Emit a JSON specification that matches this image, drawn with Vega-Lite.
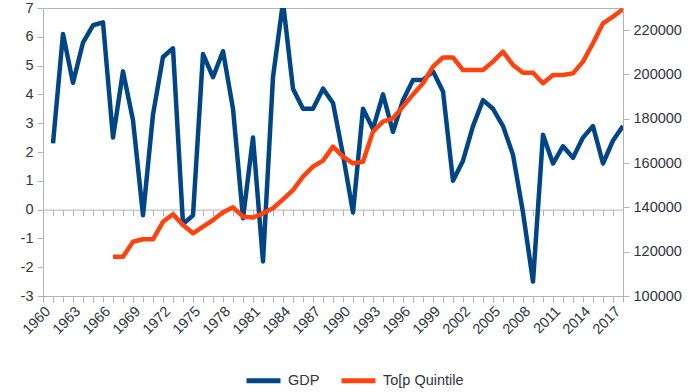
{
  "$schema": "https://vega.github.io/schema/vega-lite/v6.json",
  "width": 580,
  "height": 288,
  "autosize": {"type": "none"},
  "padding": {"left": 43, "top": 8, "right": 73, "bottom": 96},
  "background": "white",
  "config": {
    "font": "Liberation Sans",
    "view": {"stroke": "#b3b3b3", "strokeWidth": 1},
    "axis": {
      "labelFont": "Liberation Sans",
      "labelFontSize": 14.5,
      "labelColor": "#2e3440",
      "domainColor": "#b3b3b3",
      "tickColor": "#b3b3b3",
      "tickSize": 6,
      "grid": false,
      "title": null
    },
    "legend": {"labelFont": "Liberation Sans", "labelFontSize": 14.5, "labelColor": "#2e3440"}
  },
  "data": {
    "values": [
      {"year": 1961, "GDP": 2.3, "TopQuintile": null},
      {"year": 1962, "GDP": 6.1, "TopQuintile": null},
      {"year": 1963, "GDP": 4.4, "TopQuintile": null},
      {"year": 1964, "GDP": 5.8, "TopQuintile": null},
      {"year": 1965, "GDP": 6.4, "TopQuintile": null},
      {"year": 1966, "GDP": 6.5, "TopQuintile": null},
      {"year": 1967, "GDP": 2.5, "TopQuintile": 117700},
      {"year": 1968, "GDP": 4.8, "TopQuintile": 117700},
      {"year": 1969, "GDP": 3.1, "TopQuintile": 124500},
      {"year": 1970, "GDP": -0.2, "TopQuintile": 125600},
      {"year": 1971, "GDP": 3.3, "TopQuintile": 125600},
      {"year": 1972, "GDP": 5.3, "TopQuintile": 133500},
      {"year": 1973, "GDP": 5.6, "TopQuintile": 136900},
      {"year": 1974, "GDP": -0.5, "TopQuintile": 132000},
      {"year": 1975, "GDP": -0.2, "TopQuintile": 128300},
      {"year": 1976, "GDP": 5.4, "TopQuintile": 131300},
      {"year": 1977, "GDP": 4.6, "TopQuintile": 134300},
      {"year": 1978, "GDP": 5.5, "TopQuintile": 137800},
      {"year": 1979, "GDP": 3.5, "TopQuintile": 140000},
      {"year": 1980, "GDP": -0.3, "TopQuintile": 135800},
      {"year": 1981, "GDP": 2.5, "TopQuintile": 135400},
      {"year": 1982, "GDP": -1.8, "TopQuintile": 137300},
      {"year": 1983, "GDP": 4.6, "TopQuintile": 139600},
      {"year": 1984, "GDP": 7.2, "TopQuintile": 143600},
      {"year": 1985, "GDP": 4.2, "TopQuintile": 147800},
      {"year": 1986, "GDP": 3.5, "TopQuintile": 153900},
      {"year": 1987, "GDP": 3.5, "TopQuintile": 158400},
      {"year": 1988, "GDP": 4.2, "TopQuintile": 161100},
      {"year": 1989, "GDP": 3.7, "TopQuintile": 167400},
      {"year": 1990, "GDP": 1.9, "TopQuintile": 162900},
      {"year": 1991, "GDP": -0.1, "TopQuintile": 159900},
      {"year": 1992, "GDP": 3.5, "TopQuintile": 160600},
      {"year": 1993, "GDP": 2.8, "TopQuintile": 174200},
      {"year": 1994, "GDP": 4.0, "TopQuintile": 178700},
      {"year": 1995, "GDP": 2.7, "TopQuintile": 180200},
      {"year": 1996, "GDP": 3.8, "TopQuintile": 185500},
      {"year": 1997, "GDP": 4.5, "TopQuintile": 191000},
      {"year": 1998, "GDP": 4.5, "TopQuintile": 196000},
      {"year": 1999, "GDP": 4.8, "TopQuintile": 203500},
      {"year": 2000, "GDP": 4.1, "TopQuintile": 207700},
      {"year": 2001, "GDP": 1.0, "TopQuintile": 207700},
      {"year": 2002, "GDP": 1.7, "TopQuintile": 202000},
      {"year": 2003, "GDP": 2.9, "TopQuintile": 202000},
      {"year": 2004, "GDP": 3.8, "TopQuintile": 202000},
      {"year": 2005, "GDP": 3.5, "TopQuintile": 205800},
      {"year": 2006, "GDP": 2.9, "TopQuintile": 210300},
      {"year": 2007, "GDP": 1.9, "TopQuintile": 204300},
      {"year": 2008, "GDP": -0.1, "TopQuintile": 200800},
      {"year": 2009, "GDP": -2.5, "TopQuintile": 200800},
      {"year": 2010, "GDP": 2.6, "TopQuintile": 196000},
      {"year": 2011, "GDP": 1.6, "TopQuintile": 199800},
      {"year": 2012, "GDP": 2.2, "TopQuintile": 199800},
      {"year": 2013, "GDP": 1.8, "TopQuintile": 200500},
      {"year": 2014, "GDP": 2.5, "TopQuintile": 205800},
      {"year": 2015, "GDP": 2.9, "TopQuintile": 214100},
      {"year": 2016, "GDP": 1.6, "TopQuintile": 223100},
      {"year": 2017, "GDP": 2.4, "TopQuintile": 226100},
      {"year": 2018, "GDP": 2.9, "TopQuintile": 229400}
    ]
  },
  "layer": [
    {
      "mark": {"type": "line", "strokeWidth": 4.5, "clip": true, "strokeJoin": "round"},
      "encoding": {
        "x": {
          "field": "year", "type": "quantitative",
          "scale": {"domain": [1960, 2018], "nice": false, "zero": false},
          "axis": {
            "orient": "bottom",
            "values": [1960,1961,1962,1963,1964,1965,1966,1967,1968,1969,1970,1971,1972,1973,1974,1975,1976,1977,1978,1979,1980,1981,1982,1983,1984,1985,1986,1987,1988,1989,1990,1991,1992,1993,1994,1995,1996,1997,1998,1999,2000,2001,2002,2003,2004,2005,2006,2007,2008,2009,2010,2011,2012,2013,2014,2015,2016,2017,2018],
            "labelExpr": "(datum.value - 1960) % 3 == 0 ? '' + datum.value : ''",
            "labelAngle": -45,
            "labelOverlap": false,
            "labelPadding": 2,
            "labelBound": false,
            "labelFlush": false
          }
        },
        "y": {
          "field": "GDP", "type": "quantitative",
          "scale": {"domain": [-3, 7], "nice": false, "zero": false},
          "axis": {
            "orient": "left",
            "values": [-3,-2,-1,0,1,2,3,4,5,6,7],
            "labelExpr": "'' + datum.value",
            "labelPadding": 4,
            "labelFlush": false
          }
        },
        "color": {
          "datum": "GDP",
          "scale": {"domain": ["GDP", "To[p Quintile"], "range": ["#004586", "#ff420e"]},
          "legend": {
            "title": null,
            "orient": "none",
            "direction": "horizontal",
            "legendX": 201,
            "legendY": 353,
            "symbolType": "stroke",
            "symbolStrokeWidth": 5,
            "symbolSize": 1156,
            "columnPadding": 11,
            "labelOffset": 5
          }
        }
      }
    },
    {
      "mark": {"type": "line", "strokeWidth": 4.5, "clip": true, "strokeJoin": "round"},
      "encoding": {
        "x": {
          "field": "year", "type": "quantitative",
          "scale": {"domain": [1960, 2018], "nice": false, "zero": false},
          "axis": {
            "orient": "bottom",
            "offset": -86.4,
            "values": [1960,1961,1962,1963,1964,1965,1966,1967,1968,1969,1970,1971,1972,1973,1974,1975,1976,1977,1978,1979,1980,1981,1982,1983,1984,1985,1986,1987,1988,1989,1990,1991,1992,1993,1994,1995,1996,1997,1998,1999,2000,2001,2002,2003,2004,2005,2006,2007,2008,2009,2010,2011,2012,2013,2014,2015,2016,2017,2018],
            "labels": false
          }
        },
        "y": {
          "field": "TopQuintile", "type": "quantitative",
          "scale": {"domain": [100000, 230000], "nice": false, "zero": false},
          "axis": {
            "orient": "right",
            "values": [100000,120000,140000,160000,180000,200000,220000],
            "format": "d",
            "labelPadding": 4,
            "labelFlush": false
          }
        },
        "color": {"datum": "To[p Quintile"}
      }
    }
  ],
  "resolve": {"scale": {"y": "independent"}, "axis": {"x": "independent"}}
}
